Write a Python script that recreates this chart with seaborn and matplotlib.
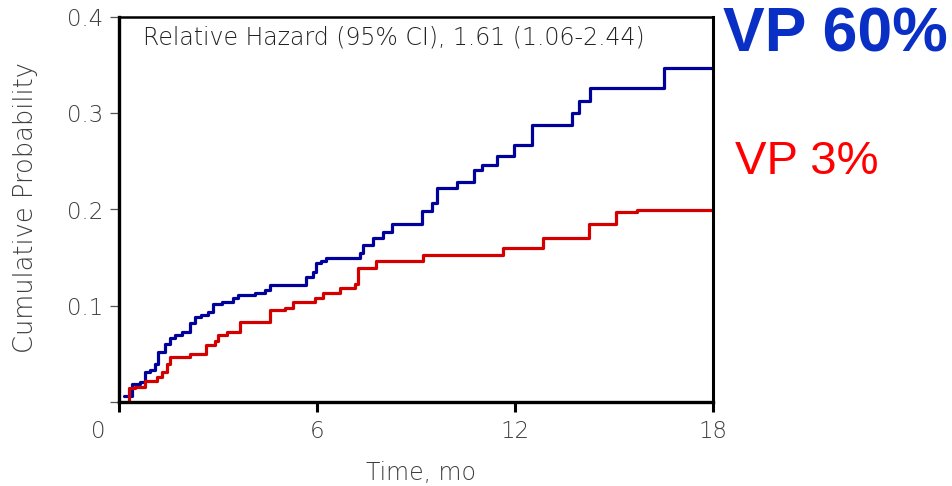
import matplotlib
matplotlib.use("Agg")
import matplotlib.pyplot as plt
from matplotlib.transforms import ScaledTranslation
import seaborn as sns
import pandas as pd

# Kaplan-Meier style cumulative event curves (time in months, cumulative probability)
vp60_time = [0.15, 0.38, 0.64, 0.79, 0.94, 1.09, 1.18, 1.39, 1.54, 1.69, 1.90, 2.15,
             2.30, 2.50, 2.69, 2.84, 3.11, 3.45, 3.60, 4.11, 4.42, 4.57, 5.68, 5.87,
             5.98, 6.13, 6.28, 7.29, 7.38, 7.69, 7.99, 8.26, 9.17, 9.50, 9.65, 10.23,
             10.77, 11.01, 11.44, 11.98, 12.53, 13.74, 13.95, 14.28, 16.52, 18.0]
vp60_prob = [0.006, 0.019, 0.021, 0.031, 0.033, 0.040, 0.052, 0.060, 0.066, 0.070, 0.073, 0.082,
             0.088, 0.090, 0.094, 0.102, 0.104, 0.108, 0.111, 0.113, 0.116, 0.122, 0.130, 0.135,
             0.144, 0.146, 0.150, 0.155, 0.163, 0.170, 0.177, 0.185, 0.198, 0.207, 0.222, 0.229,
             0.241, 0.246, 0.256, 0.267, 0.288, 0.300, 0.313, 0.326, 0.3475, 0.3475]

vp3_time = [0.30, 0.31, 0.48, 0.79, 1.14, 1.29, 1.44, 1.54, 2.15, 2.65, 2.90, 3.00,
            3.26, 3.66, 4.57, 5.02, 5.27, 5.93, 6.18, 6.69, 7.14, 7.24, 7.80, 9.21,
            11.63, 12.86, 14.25, 15.06, 15.70, 18.0]
vp3_prob = [0.0, 0.0145, 0.016, 0.022, 0.026, 0.031, 0.039, 0.047, 0.050, 0.059, 0.063, 0.070,
            0.073, 0.083, 0.0955, 0.098, 0.104, 0.108, 0.1135, 0.118, 0.1225, 0.139, 0.146, 0.1527,
            0.1595, 0.170, 0.1845, 0.1976, 0.199, 0.199]

group_names = ["VP 60%", "VP 3%"]
group_colors = ["#00009a", "#d40000"]
label_colors = ["#0a2fc4", "#ff0000"]

x_ticks = [0, 6, 12, 18]
y_ticks = [0, 0.1, 0.2, 0.3, 0.4]
y_tick_labels = ["", "0.1", "0.2", "0.3", "0.4"]

annotation = "Relative Hazard (95% CI), 1.61 (1.06-2.44)"

df = pd.concat([
    pd.DataFrame({"time": vp60_time, "prob": vp60_prob, "group": group_names[0]}),
    pd.DataFrame({"time": vp3_time, "prob": vp3_prob, "group": group_names[1]}),
], ignore_index=True)

sns.set_style("white")
plt.rcParams["font.family"] = ["DejaVu Sans"]
plt.rcParams["font.weight"] = "light"
plt.rcParams["axes.labelweight"] = "light"

fig = plt.figure(figsize=(9.53, 4.86), dpi=100)
ax = fig.add_axes([119 / 953, 84 / 486, 594 / 953, 385 / 486])

sns.lineplot(data=df, x="time", y="prob", hue="group", hue_order=group_names,
             palette=group_colors, estimator=None, drawstyle="steps-post",
             linewidth=2.3, legend=False, ax=ax)

ax.set_xlim(0, 18)
ax.set_ylim(0, 0.4)
ax.set_xticks(x_ticks)
ax.set_xticklabels([str(t) for t in x_ticks])
ax.set_yticks(y_ticks)
ax.set_yticklabels(y_tick_labels)

grey = "#3e3e3e"
ax.tick_params(axis="x", direction="out", length=7, width=2.2, color="black",
               labelsize=16.5, labelcolor=grey, pad=6, bottom=True)
ax.tick_params(axis="y", direction="out", length=6.5, width=0.9, color="#555555",
               labelsize=16.5, labelcolor=grey, pad=5, left=True)

# the "0" label sits out at the corner
zero_lbl = ax.get_xticklabels()[0]
zero_lbl.set_transform(zero_lbl.get_transform() + ScaledTranslation(-0.21, 0, fig.dpi_scale_trans))

for side, w in (("left", 2.4), ("bottom", 2.4), ("top", 1.8), ("right", 2.2)):
    ax.spines[side].set_visible(True)
    ax.spines[side].set_color("black")
    ax.spines[side].set_linewidth(w)

ax.set_xlabel("Time, mo", fontsize=17, color=grey)
ax.set_ylabel("Cumulative Probability", fontsize=18.5, color=grey)
ax.xaxis.set_label_coords((421 - 119) / 594, (402 - 473) / 385)
ax.xaxis.label.set_va("center")
ax.yaxis.set_label_coords((26 - 119) / 594, (402 - 207) / 385)
ax.yaxis.label.set_va("center")

ax.text((143 - 119) / 594, (402 - 37) / 385, annotation, transform=ax.transAxes,
        fontsize=17, color="#222222", ha="left", va="center")

fig.text(723 / 953, 1 - 35 / 486, group_names[0], fontsize=45, fontweight="bold",
         family="Liberation Sans", color=label_colors[0], ha="left", va="center")
fig.text(735 / 953, 1 - 162 / 486, group_names[1], fontsize=34, fontweight="normal",
         family="Liberation Sans", color=label_colors[1], ha="left", va="center")

fig.savefig("out.png", dpi=100, facecolor="white")
